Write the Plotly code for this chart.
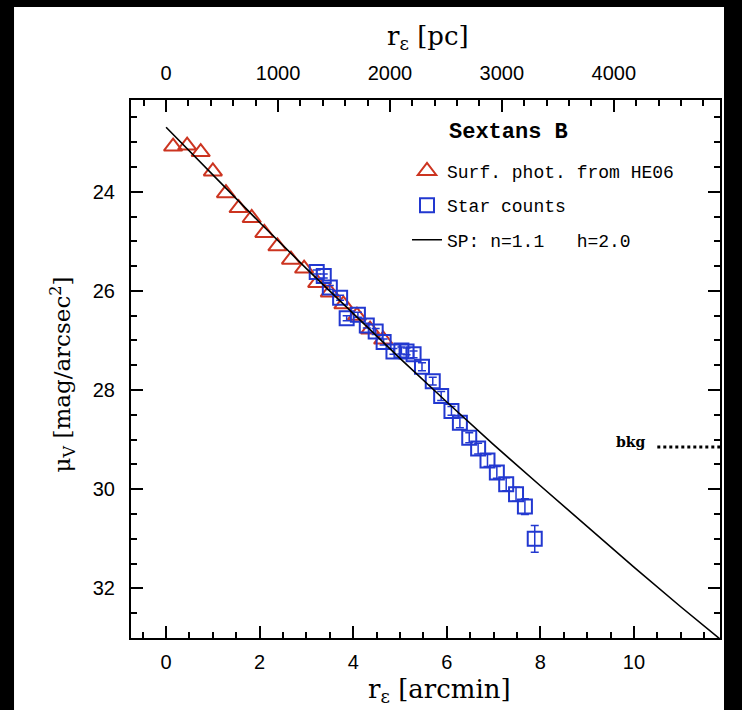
import plotly.graph_objects as go

# ---- data ----
tri_r = [0.15, 0.45, 0.74, 1.00, 1.28, 1.55, 1.83, 2.10, 2.38, 2.67, 2.95, 3.23, 3.50, 3.79, 4.08, 4.36, 4.64]
tri_mu = [23.09, 23.07, 23.20, 23.59, 24.03, 24.33, 24.53, 24.83, 25.10, 25.37, 25.55, 25.84, 26.03, 26.27, 26.50, 26.78, 26.98]

sq_r = [3.22, 3.37, 3.50, 3.72, 3.86, 4.10, 4.29, 4.48, 4.65, 4.86, 5.03, 5.14, 5.29, 5.47, 5.70,
        5.88, 6.10, 6.28, 6.48, 6.67, 6.87, 7.07, 7.27, 7.48, 7.67, 7.88]
sq_mu = [25.62, 25.70, 25.93, 26.14, 26.55, 26.48, 26.70, 26.82, 27.03, 27.22, 27.20, 27.22, 27.28, 27.53, 27.82,
         28.12, 28.42, 28.66, 28.96, 29.18, 29.42, 29.66, 29.90, 30.10, 30.35, 31.00]
sq_err = [0.04, 0.04, 0.04, 0.05, 0.05, 0.05, 0.05, 0.06, 0.06, 0.06, 0.07, 0.07, 0.07, 0.08, 0.08,
          0.09, 0.09, 0.10, 0.10, 0.11, 0.12, 0.12, 0.13, 0.14, 0.16, 0.27]

fit_r = [0.0, 1.0, 2.0, 3.0, 4.0, 5.0, 6.0, 7.0, 8.0, 9.0, 10.0, 11.0, 11.84]
fit_mu = [22.70, 23.67, 24.62, 25.55, 26.46, 27.36, 28.24, 29.10, 29.93, 30.76, 31.57, 32.37, 33.02]

bkg_r = [10.5, 11.84]
bkg_mu = [29.15, 29.15]

x_range = [-0.75, 11.84]
y_range = [33.0, 22.15]
pc_per_arcmin = 418.0

RED = "#cc3420"
BLUE = "#2238d0"
SERIF = "DejaVu Serif"
MONO = "Liberation Mono"
SANS = "Liberation Sans"

fig = go.Figure()
fig.add_trace(go.Scatter(
    x=tri_r, y=tri_mu, mode="markers", name="Surf. phot. from HE06",
    marker=dict(symbol="triangle-up-open", size=16, color=RED, line=dict(width=2, color=RED)),
    legendgroup="a"))
fig.add_trace(go.Scatter(
    x=sq_r, y=sq_mu, mode="markers", name="Star counts",
    marker=dict(symbol="square-open", size=14, color=BLUE, line=dict(width=2, color=BLUE)),
    error_y=dict(type="data", array=sq_err, color=BLUE, thickness=1.5, width=4),
    legendgroup="b"))
fig.add_trace(go.Scatter(
    x=fit_r, y=fit_mu, mode="lines", name="SP: n=1.1   h=2.0",
    line=dict(color="black", width=1.6), legendgroup="c"))
fig.add_trace(go.Scatter(
    x=bkg_r, y=bkg_mu, mode="lines", showlegend=False,
    line=dict(color="black", width=3, dash="dot")))
# invisible trace to activate the top (pc) axis
fig.add_trace(go.Scatter(x=[x_range[0] * pc_per_arcmin], y=[y_range[0]], xaxis="x2",
                         mode="markers", marker=dict(opacity=0), showlegend=False, hoverinfo="skip"))

axis_common = dict(showline=True, linecolor="black", linewidth=2, ticks="inside",
                   tickcolor="black", tickwidth=1.5, showgrid=False, zeroline=False,
                   tickfont=dict(family=SANS, size=20, color="black"))
minor_common = dict(ticklen=6, ticks="inside", tickcolor="black", tickwidth=1.5)

fig.update_layout(
    width=742, height=710,
    margin=dict(l=131, r=22, t=100, b=72),
    paper_bgcolor="black", plot_bgcolor="white",
    xaxis=dict(range=x_range, dtick=2, tick0=0, ticklen=12, mirror=False,
               minor=dict(dtick=0.5, **minor_common),
               ticklabelstandoff=5, **axis_common),
    xaxis2=dict(range=[x_range[0] * pc_per_arcmin, x_range[1] * pc_per_arcmin], overlaying="x",
                side="top", dtick=1000, tick0=0, ticklen=12,
                minor=dict(dtick=200, **minor_common),
                ticklabelstandoff=10, **axis_common),
    yaxis=dict(range=y_range, dtick=2, tick0=24, ticklen=12, mirror="ticks",
               minor=dict(dtick=0.5, **minor_common),
               ticklabelstandoff=10, **axis_common),
    showlegend=True,
    legend=dict(x=0.4686, y=0.902, xanchor="left", yanchor="top", bgcolor="rgba(0,0,0,0)",
                font=dict(family=MONO, size=18, color="black"), tracegroupgap=8,
                traceorder="grouped"),
    shapes=[dict(type="rect", xref="paper", yref="paper", x0=-0.1986, x1=1.0068,
                 y0=-0.14, y1=1.1729, fillcolor="white", line=dict(width=0), layer="below")],
    annotations=[
        dict(text="<b>Sextans B</b>", xref="paper", yref="paper", x=0.5365, y=0.9387,
             xanchor="left", yanchor="middle", showarrow=False,
             font=dict(family=MONO, size=22, color="black")),
        dict(text="r<sub>ε</sub> [arcmin]", xref="paper", yref="paper", x=0.523, y=-0.097,
             xanchor="center", yanchor="middle", showarrow=False,
             font=dict(family=SERIF, size=26, color="black")),
        dict(text="r<sub>ε</sub> [pc]", xref="paper", yref="paper", x=0.505, y=1.117,
             xanchor="center", yanchor="middle", showarrow=False,
             font=dict(family=SERIF, size=26, color="black")),
        dict(text="μ<sub>V</sub> [mag/arcsec<sup>2</sup>]", xref="paper", yref="paper",
             x=-0.117, y=0.49, textangle=-90, xanchor="center", yanchor="middle",
             showarrow=False, font=dict(family=SERIF, size=23, color="black")),
        dict(text="<b>bkg</b>", x=10.28, y=29.05, xanchor="right", yanchor="middle", showarrow=False,
             font=dict(family=SERIF, size=14, color="black")),
    ],
)

fig.write_html("out.html", config={"displayModeBar": False},
               post_script="document.body.style.margin='0';document.body.style.background='black';")
